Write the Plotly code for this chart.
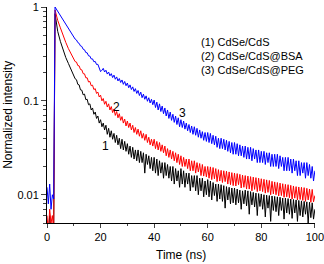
import plotly.graph_objects as go
import math

time_ns = [0, 0.5, 1, 1.5, 2, 2.5, 3, 4, 5, 6, 7, 8, 9] + [10 + 0.5 * i for i in range(181)]

cdse_cds = [0.005, 0.004, 0.006, 0.004, 0.005, 0.004,
    0.85, 0.55, 0.43, 0.345, 0.29, 0.25, 0.215,
    0.192, 0.172, 0.168, 0.150, 0.148, 0.131, 0.130, 0.116, 0.118, 0.103,
    0.104, 0.091, 0.093, 0.080, 0.084, 0.072, 0.076, 0.065, 0.069, 0.058,
    0.063, 0.053, 0.058, 0.049, 0.055, 0.044, 0.051, 0.041, 0.048, 0.039,
    0.045, 0.036, 0.043, 0.034, 0.040, 0.031, 0.039, 0.030, 0.037, 0.029,
    0.035, 0.027, 0.033, 0.025, 0.032, 0.024, 0.030, 0.023, 0.030, 0.022,
    0.029, 0.022, 0.028, 0.017, 0.027, 0.021, 0.026, 0.019, 0.025, 0.018,
    0.025, 0.017, 0.024, 0.016, 0.023, 0.017, 0.022, 0.015, 0.022, 0.016,
    0.021, 0.015, 0.020, 0.014, 0.020, 0.013, 0.019, 0.014, 0.018, 0.012,
    0.019, 0.013, 0.018, 0.012, 0.017, 0.013, 0.017, 0.011, 0.016, 0.012,
    0.016, 0.011, 0.016, 0.010, 0.015, 0.011, 0.015, 0.0095, 0.014, 0.010,
    0.0145, 0.0095, 0.014, 0.0088, 0.0135, 0.0098, 0.013, 0.0085, 0.013, 0.0090,
    0.0128, 0.0085, 0.0125, 0.0072, 0.0122, 0.0088, 0.012, 0.0080, 0.0118, 0.0082,
    0.0118, 0.0078, 0.0115, 0.0082, 0.0112, 0.0070, 0.0110, 0.0080, 0.0112, 0.0076,
    0.0110, 0.0062, 0.0108, 0.0078, 0.0106, 0.0074, 0.0104, 0.0060, 0.0103, 0.0075,
    0.0102, 0.0070, 0.0100, 0.0058, 0.0099, 0.0072, 0.0098, 0.0052, 0.0097, 0.0068,
    0.0096, 0.0066, 0.0095, 0.0060, 0.0094, 0.0068, 0.0092, 0.0055, 0.0092, 0.0064,
    0.0091, 0.0062, 0.0090, 0.0056, 0.0089, 0.0064, 0.0088, 0.0052, 0.0087, 0.0060,
    0.0086, 0.0058, 0.0085, 0.0062, 0.0084, 0.0050, 0.0083, 0.0057, 0.0082, 0.0055,
    0.0070]

cdse_cds_bsa = [0.006, 0.004, 0.007, 0.005, 0.006, 0.004,
    0.93, 0.72, 0.60, 0.49, 0.42, 0.36, 0.32,
    0.285, 0.262, 0.259, 0.238, 0.236, 0.216, 0.214, 0.195, 0.194, 0.176,
    0.176, 0.159, 0.161, 0.145, 0.147, 0.132, 0.135, 0.120, 0.124, 0.110,
    0.115, 0.100, 0.106, 0.092, 0.099, 0.086, 0.093, 0.080, 0.087, 0.075,
    0.082, 0.070, 0.077, 0.066, 0.073, 0.062, 0.068, 0.058, 0.064, 0.054,
    0.061, 0.052, 0.058, 0.049, 0.055, 0.046, 0.052, 0.044, 0.050, 0.042,
    0.048, 0.040, 0.045, 0.038, 0.044, 0.036, 0.041, 0.034, 0.039, 0.033,
    0.039, 0.031, 0.037, 0.030, 0.036, 0.029, 0.034, 0.028, 0.033, 0.026,
    0.031, 0.025, 0.030, 0.024, 0.029, 0.023, 0.028, 0.022, 0.027, 0.021,
    0.026, 0.020, 0.025, 0.020, 0.024, 0.019, 0.024, 0.018, 0.023, 0.018,
    0.023, 0.017, 0.022, 0.0175, 0.0215, 0.016, 0.021, 0.0158, 0.020, 0.0155,
    0.020, 0.015, 0.0198, 0.0145, 0.0195, 0.0148, 0.019, 0.0138, 0.0185, 0.014,
    0.0182, 0.0135, 0.018, 0.0138, 0.0178, 0.013, 0.0175, 0.0128, 0.0172, 0.0125,
    0.0170, 0.0124, 0.0168, 0.0128, 0.0165, 0.0118, 0.0162, 0.0120, 0.016, 0.0115,
    0.0158, 0.0115, 0.0156, 0.0110, 0.0154, 0.0114, 0.0152, 0.0108, 0.015, 0.0110,
    0.0148, 0.0108, 0.0146, 0.0104, 0.0144, 0.0106, 0.0142, 0.0100, 0.0139, 0.0102,
    0.0137, 0.0100, 0.0135, 0.0097, 0.0133, 0.0098, 0.0131, 0.0094, 0.0129, 0.0095,
    0.0128, 0.0093, 0.0126, 0.0090, 0.0124, 0.0092, 0.0122, 0.0088, 0.0121, 0.0089,
    0.0120, 0.0087, 0.0119, 0.0085, 0.0117, 0.0088, 0.0115, 0.0083, 0.0114, 0.0084,
    0.0098]

cdse_cds_peg = [0.012, 0.008, 0.013, 0.007, 0.010, 0.009,
    1.0, 0.90, 0.80, 0.72, 0.645, 0.58, 0.525,
    0.485, 0.455, 0.445, 0.418, 0.41, 0.385, 0.38, 0.355, 0.35, 0.327,
    0.325, 0.302, 0.30, 0.28, 0.28, 0.261, 0.263, 0.244, 0.245, 0.226,
    0.205, 0.212, 0.222, 0.203, 0.212, 0.193, 0.203, 0.185, 0.195, 0.177,
    0.188, 0.170, 0.180, 0.163, 0.173, 0.157, 0.167, 0.150, 0.161, 0.145,
    0.155, 0.138, 0.148, 0.132, 0.141, 0.126, 0.135, 0.120, 0.129, 0.114,
    0.124, 0.108, 0.118, 0.104, 0.113, 0.099, 0.108, 0.095, 0.104, 0.091,
    0.102, 0.085, 0.097, 0.080, 0.093, 0.077, 0.088, 0.073, 0.084, 0.069,
    0.080, 0.065, 0.076, 0.062, 0.072, 0.059, 0.069, 0.056, 0.066, 0.053,
    0.063, 0.052, 0.061, 0.050, 0.058, 0.048, 0.056, 0.046, 0.054, 0.044,
    0.053, 0.043, 0.051, 0.041, 0.049, 0.040, 0.047, 0.038, 0.046, 0.037,
    0.046, 0.036, 0.045, 0.035, 0.043, 0.034, 0.042, 0.032, 0.040, 0.031,
    0.040, 0.031, 0.039, 0.030, 0.038, 0.029, 0.037, 0.028, 0.036, 0.027,
    0.036, 0.027, 0.035, 0.026, 0.034, 0.026, 0.033, 0.025, 0.033, 0.024,
    0.032, 0.024, 0.032, 0.023, 0.031, 0.024, 0.030, 0.022, 0.030, 0.022,
    0.029, 0.022, 0.029, 0.021, 0.028, 0.022, 0.028, 0.020, 0.027, 0.020,
    0.027, 0.020, 0.027, 0.019, 0.026, 0.020, 0.025, 0.018, 0.025, 0.018,
    0.025, 0.018, 0.024, 0.017, 0.024, 0.018, 0.023, 0.016, 0.023, 0.016,
    0.022, 0.017, 0.022, 0.015, 0.022, 0.016, 0.021, 0.015, 0.020, 0.014,
    0.018]

legend_lines = ["(1) CdSe/CdS", "(2) CdSe/CdS@BSA", "(3) CdSe/CdS@PEG"]
curve_labels = ["1", "2", "3"]
label_pos = [(22, 0.033), (26, 0.086), (50.5, 0.075)]

y_ticks = [0.01, 0.1, 1]
y_ticktext = ["0.01", "0.1", "1"]
y_minor = [0.005, 0.006, 0.007, 0.008, 0.009, 0.02, 0.03, 0.04, 0.05,
           0.06, 0.07, 0.08, 0.09, 0.2, 0.3, 0.4, 0.5, 0.6, 0.7, 0.8, 0.9]
x_ticks = [0, 20, 40, 60, 80, 100]

FONT = "Liberation Sans, Arial, sans-serif"

fig = go.Figure()
for ys, col in [(cdse_cds, "black"), (cdse_cds_bsa, "#ff0000"), (cdse_cds_peg, "#0000ff")]:
    fig.add_trace(go.Scatter(x=time_ns, y=ys, mode="lines",
                             line=dict(color=col, width=1), showlegend=False))

for (tx, ty), lab in zip(label_pos, curve_labels):
    fig.add_annotation(x=tx, y=math.log10(ty), text=lab, showarrow=False,
                       font=dict(family=FONT, size=12, color="black"))

for i, line in enumerate(legend_lines):
    fig.add_annotation(x=0.567, y=0.838 - 0.065 * i, xref="paper", yref="paper",
                       xanchor="left", yanchor="middle", showarrow=False, text=line,
                       font=dict(family=FONT, size=11, color="black"))

fig.add_annotation(x=0.5, y=-0.148, xref="paper", yref="paper", xanchor="center",
                   yanchor="middle", showarrow=False, text="Time (ns)",
                   font=dict(family=FONT, size=12, color="black"))
fig.add_annotation(x=-0.146, y=0.5, xref="paper", yref="paper", xanchor="center",
                   yanchor="middle", showarrow=False, text="Normalized intensity",
                   textangle=-90, font=dict(family=FONT, size=12, color="black"))

fig.update_layout(
    width=324, height=264,
    margin=dict(l=47, r=9, t=7, b=41),
    paper_bgcolor="white", plot_bgcolor="white",
    font=dict(family=FONT, size=11, color="black"),
)
fig.update_xaxes(range=[0, 100.05], tickvals=x_ticks, ticks="outside", ticklen=4,
                 showline=True, linecolor="black", linewidth=1, showgrid=False,
                 zeroline=False, automargin=False, ticklabeloverflow="allow",
                 minor=dict(ticks="outside", ticklen=2, dtick=10, showgrid=False),
                 tickfont=dict(size=11))
fig.update_yaxes(type="log", range=[math.log10(0.005), 0], tickvals=y_ticks,
                 ticktext=y_ticktext, ticks="outside", ticklen=5,
                 showline=True, linecolor="black", linewidth=1, showgrid=False,
                 zeroline=False, automargin=False,
                 minor=dict(ticks="outside", ticklen=3, showgrid=False, tickvals=y_minor),
                 tickfont=dict(size=11))

fig.write_html("out.html", config={"displayModeBar": False},
               post_script="document.body.style.margin='0';document.body.style.overflow='hidden';")
